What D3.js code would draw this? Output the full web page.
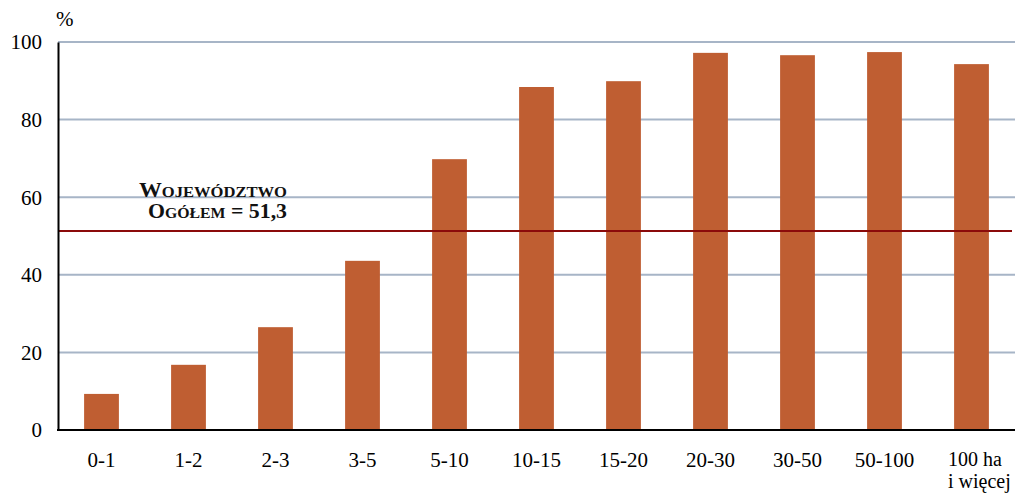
<!DOCTYPE html>
<html><head><meta charset="utf-8">
<script src="https://cdn.jsdelivr.net/npm/d3@7"></script>
<style>body{margin:0;background:#fff}svg{display:block}svg text{font-family:"Liberation Serif","Times New Roman",serif !important}</style>
</head><body><svg id="c" width="1015" height="493" font-family="Liberation Serif"></svg>
<script>
const categories = ["0-1","1-2","2-3","3-5","5-10","10-15","15-20","20-30","30-50","50-100","100 ha|i więcej"];
const values = [9.3,16.8,26.5,43.6,69.8,88.4,89.9,97.2,96.6,97.4,94.3];
const yTicks = [0,20,40,60,80,100];
const average = 51.3;

(function(){
const FONT = "Liberation Serif";
const svg = d3.select("#c");
const mLeft = 58, mRight = 1015, mTop = 42, mBottom = 430;
const x = d3.scaleBand().domain(categories).range([mLeft, mRight]).paddingInner(0.6).paddingOuter(0.3);
const y = d3.scaleLinear().domain([0,100]).range([mBottom, mTop]);

svg.append("g").selectAll("line").data(yTicks.filter(d=>d>0)).join("line")
  .attr("x1", mLeft).attr("x2", mRight).attr("y1", d=>y(d)).attr("y2", d=>y(d))
  .attr("stroke","#a7b5c7").attr("stroke-width",2);

svg.append("g").selectAll("rect").data(values).join("rect")
  .attr("x",(d,i)=>x(categories[i])).attr("width",x.bandwidth())
  .attr("y",d=>y(d)).attr("height",d=>y(0)-y(d)).attr("fill","#bf5e32");

svg.append("line").attr("x1",mLeft).attr("x2",1012).attr("y1",y(average)).attr("y2",y(average))
  .attr("stroke","#8b0a0a").attr("stroke-width",2);

const yAxis = d3.axisLeft(y).tickValues(yTicks).tickSize(0).tickPadding(16);
const gy = svg.append("g").attr("transform",`translate(${mLeft},0)`).call(yAxis)
  .attr("font-family",FONT).attr("font-size",21);
gy.select(".domain").attr("stroke","#000").attr("stroke-width",2);
gy.selectAll("text").attr("fill","#000").attr("dy","0.33em");

const xAxis = d3.axisBottom(x).tickSize(0).tickFormat("");
const gx = svg.append("g").attr("transform",`translate(0,${mBottom})`).call(xAxis);
gx.select(".domain").attr("stroke","#000").attr("stroke-width",2).attr("d",`M${mLeft-1},0H${mRight}`);

const xl = svg.append("g").attr("font-family",FONT).attr("font-size",21)
  .selectAll("text").data(categories).join("text").attr("fill","#000");
xl.each(function(d){
  const parts = d.split("|");
  const t = d3.select(this);
  const cx = x(d) + x.bandwidth()/2;
  if(parts.length===1){
    t.attr("x",cx).attr("y",467).attr("text-anchor","middle").text(d);
  } else {
    t.attr("text-anchor","start").attr("font-size",20);
    parts.forEach((p,i)=>t.append("tspan").attr("x",948).attr("y",466+i*22).text(p));
  }
});

svg.append("text").attr("font-family",FONT).attr("x",56).attr("y",26).attr("font-size",21).text("%");

function smallCaps(sel, parts){
  parts.forEach(([txt,big])=>{
    sel.append("tspan").attr("font-size",big?20:14.5).text(txt);
  });
}
const l1 = svg.append("text").attr("font-family",FONT).attr("x",139).attr("y",197)
  .attr("font-weight","bold").attr("fill","#111")
  .attr("textLength",148).attr("lengthAdjust","spacingAndGlyphs");
smallCaps(l1,[["W",1],["OJEWÓDZTWO",0]]);
const l2 = svg.append("text").attr("font-family",FONT).attr("x",148).attr("y",218)
  .attr("font-weight","bold").attr("fill","#111")
  .attr("textLength",139).attr("lengthAdjust","spacingAndGlyphs");
smallCaps(l2,[["O",1],["GÓŁEM",0],[" = "+d3.format(".1f")(average).replace(".",","),1]]);
})();
</script></body></html>
